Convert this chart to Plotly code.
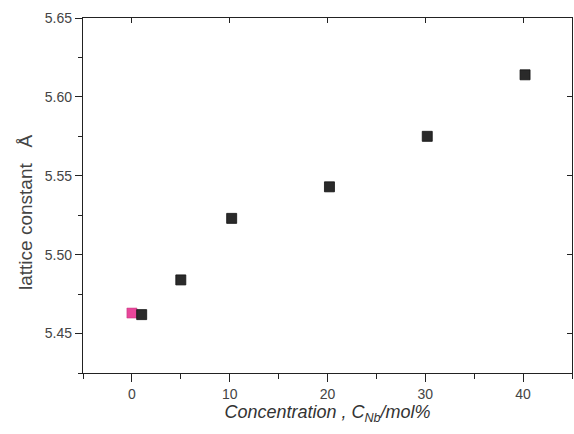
import plotly.graph_objects as go

# Data
conc_ref = [0.0]
lat_ref = [5.463]
conc = [1.0, 5.0, 10.2, 20.2, 30.2, 40.2]
lat = [5.462, 5.484, 5.523, 5.543, 5.575, 5.614]

x_ticks = [0, 10, 20, 30, 40]
y_ticks = [5.45, 5.50, 5.55, 5.60, 5.65]

fig = go.Figure()
fig.add_trace(go.Scatter(x=conc_ref, y=lat_ref, mode="markers",
                         marker=dict(symbol="square", size=10, color="#e8469a",
                                     line=dict(width=0.5, color="#c0307a")),
                         showlegend=False))
fig.add_trace(go.Scatter(x=conc, y=lat, mode="markers",
                         marker=dict(symbol="square", size=10, color="#2a2a2a",
                                     line=dict(width=0.8, color="#111111")),
                         showlegend=False))
# dummy trace to activate overlay axes
fig.add_trace(go.Scatter(x=[None], y=[None], xaxis="x2", yaxis="y2", showlegend=False))

font_main = dict(family="Liberation Sans, Arial, sans-serif", size=14, color="#444444")
xr = [-5, 45]
yr = [5.425, 5.65]

fig.update_layout(
    width=574, height=434,
    margin=dict(l=83, r=2, t=18, b=61),
    paper_bgcolor="white", plot_bgcolor="white",
    font=font_main,
    xaxis=dict(range=xr, tickvals=x_ticks, ticks="outside", ticklen=8, tickwidth=1.3,
               tickcolor="#222", showline=True, linecolor="#222", linewidth=1.3,
               showgrid=False, zeroline=False,
               minor=dict(dtick=5, tick0=0, ticks="outside", ticklen=5, tickcolor="#222", showgrid=False),
               title=dict(text="<i>Concentration , C<sub>Nb</sub>/mol%</i>", standoff=3,
                          font=dict(size=18, color="#333"))),
    yaxis=dict(range=yr, tickvals=y_ticks, tickformat=".2f", ticks="outside", ticklen=7,
               tickwidth=1.3, tickcolor="#222", showline=True, linecolor="#222", linewidth=1.3,
               showgrid=False, zeroline=False,
               minor=dict(dtick=0.025, tick0=5.45, ticks="outside", ticklen=4, tickcolor="#222", showgrid=False)),
    xaxis2=dict(range=xr, overlaying="x", side="top", tickvals=x_ticks, ticks="inside",
                ticklen=5, tickcolor="#222", showticklabels=False, showline=True,
                linecolor="#222", linewidth=1.3, showgrid=False, zeroline=False),
    yaxis2=dict(range=yr, overlaying="y", side="right", tickvals=y_ticks, ticks="inside",
                ticklen=5, tickcolor="#222", showticklabels=False, showline=True,
                linecolor="#222", linewidth=1.3, showgrid=False, zeroline=False),
    annotations=[dict(text="lattice constant   Å", textangle=-90, showarrow=False,
                      xref="paper", yref="paper", x=-0.1186, y=0.4535,
                      xanchor="center", yanchor="middle",
                      font=dict(size=19, color="#444"))],
)

fig.write_html("out.html")
